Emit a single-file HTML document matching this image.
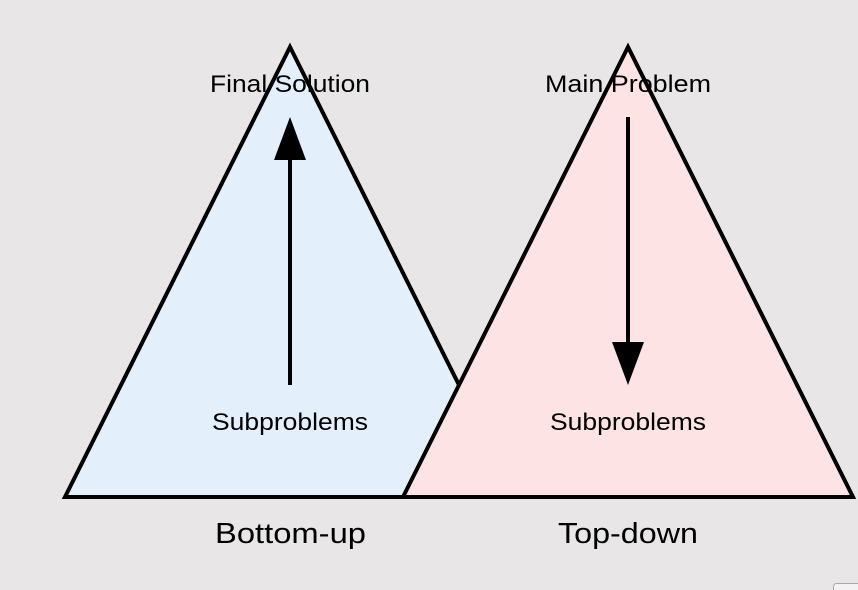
<!DOCTYPE html>
<html><head><meta charset="utf-8"><style>
html,body{margin:0;padding:0;background:#e8e6e7;width:858px;height:590px;overflow:hidden}
svg{display:block}
text{font-family:"Liberation Sans",sans-serif;fill:#000}
</style></head><body>
<svg width="858" height="590" viewBox="0 0 858 590">
<rect width="858" height="590" fill="#e8e6e7"/>
<polygon points="290,47 65,497 515,497" fill="#e3effb" stroke="#000" stroke-width="4" stroke-linejoin="miter"/>
<polygon points="628,47 403,497 853,497" fill="#fde3e3" stroke="#000" stroke-width="4" stroke-linejoin="miter"/>
<line x1="290" y1="385" x2="290" y2="158" stroke="#000" stroke-width="4"/>
<polygon points="274,160 306,160 290,117" fill="#000"/>
<line x1="628" y1="117" x2="628" y2="344" stroke="#000" stroke-width="4"/>
<polygon points="612,342 644,342 628,385" fill="#000"/>
<text x="210" y="92" font-size="24" textLength="160" lengthAdjust="spacingAndGlyphs">Final Solution</text>
<text x="545" y="92" font-size="24" textLength="166" lengthAdjust="spacingAndGlyphs">Main Problem</text>
<text x="212" y="430" font-size="24" textLength="156" lengthAdjust="spacingAndGlyphs">Subproblems</text>
<text x="550" y="430" font-size="24" textLength="156" lengthAdjust="spacingAndGlyphs">Subproblems</text>
<text x="215" y="543" font-size="29" textLength="151" lengthAdjust="spacingAndGlyphs">Bottom-up</text>
<text x="558" y="543" font-size="29" textLength="140" lengthAdjust="spacingAndGlyphs">Top-down</text>
<rect x="833.5" y="583.5" width="30" height="20" rx="3" fill="#f3f3f3" stroke="#aaa"/>
</svg>
</body></html>
